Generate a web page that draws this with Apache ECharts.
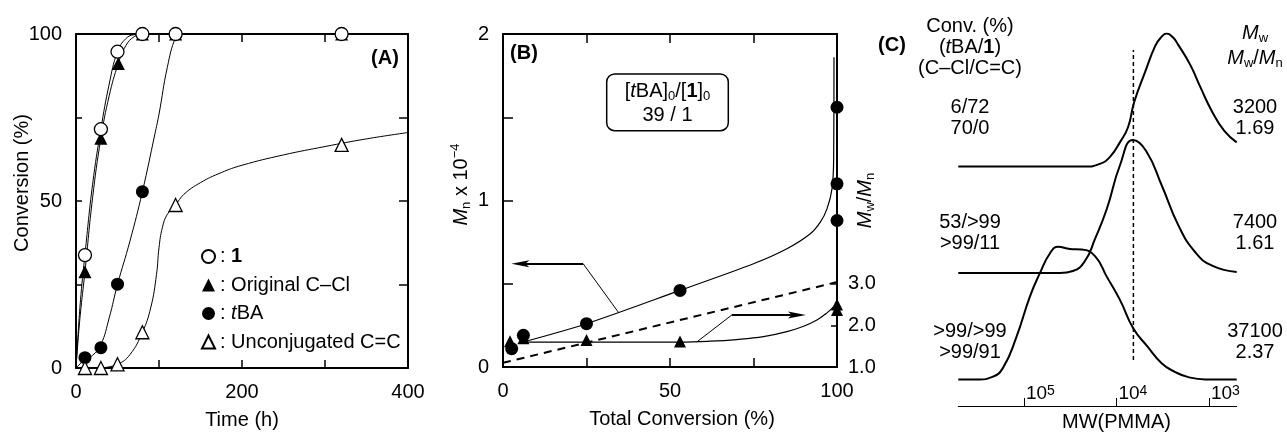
<!DOCTYPE html>
<html>
<head>
<meta charset="utf-8">
<script src="https://cdn.jsdelivr.net/npm/echarts@6/dist/echarts.min.js"></script>
<style>
  html, body { margin: 0; padding: 0; background: #fff; }
  #chart { width: 1287px; height: 433px; }
</style>
</head>
<body>
<div id="chart"></div>
<script>
var FONT = '"Liberation Sans", Arial, Helvetica, sans-serif';

// ---- (A) conversion vs. time, measured points [time (h), conversion (%)]
var convInit = [[10.8, 33.8], [30, 71.5], [50, 94.7], [80, 100], [120, 100], [320, 100]];
var convCCl  = [[10.8, 28.8], [30, 68.8], [51, 91.2], [80, 100], [120, 100], [320, 100]];
var convTBA  = [[10.8, 3.1], [30, 6.1], [50, 25.1], [80, 52.8], [120, 100], [320, 100]];
var convCC   = [[10.8, 0], [30, 0], [50, 1.1], [80, 10.7], [120, 48.8], [320, 66.8]];

// ---- (A) guide curves drawn through the points
var fitInit = [[0, 0], [3, 12], [6, 22], [10.8, 34], [20, 55], [30, 71.5], [40, 85], [50, 94.7], [60, 98.6], [70, 99.8], [80, 100], [400, 100]];
var fitCCl  = [[0, 0], [3, 10], [6, 18], [10.8, 28.8], [20, 51], [30, 68.8], [40, 81.5], [51, 91.2], [60, 96.5], [70, 99.2], [80, 100], [400, 100]];
var fitTBA  = [[0, 0], [10.8, 2.5], [20, 3.8], [30, 7], [40, 15], [50, 25], [65, 38], [80, 52.8], [95, 70], [100, 76], [110, 90], [120, 99], [126, 100], [400, 100]];
var fitCC   = [[30, 0], [50, 1.1], [65, 4], [80, 10.7], [90, 18], [97, 28], [100, 36], [104, 42], [110, 46], [120, 48.8], [130, 52], [150, 55.5], [175, 58.5], [200, 60.7], [250, 63.8], [300, 66.3], [350, 68.6], [400, 70.5]];

// ---- (B) Mn and Mw/Mn vs. total conversion
var mnPoints  = [[2.6, 0.11], [6.1, 0.19], [25, 0.26], [53, 0.46], [100, 0.88], [100, 1.10], [100, 1.56]];
var pdiPoints = [[2.1, 1.62], [6.1, 1.69], [25, 1.65], [53, 1.61], [100, 2.37], [100, 2.5]];
var mnTheory  = [[0, 0.025], [100, 0.51]];
var mnFit  = [[6, 0.15], [25, 0.26], [53, 0.46], [75, 0.62], [85, 0.71], [92, 0.8], [95, 0.87], [97, 0.95], [98.5, 1.07], [99, 1.25], [99.1, 1.86]];
var pdiFit = [[6, 1.6], [30, 1.6], [53, 1.6], [62, 1.62], [70, 1.66], [78, 1.73], [85, 1.85], [90, 1.98], [94, 2.13], [97, 2.3], [99, 2.45], [100, 2.55]];

// ---- (C) SEC traces, [log10 MW, normalised RI]
var gpc3200 = [[5.71, 0], [4.34, 0], [4.18, 0.02], [4.07, 0.073], [3.96, 0.186], [3.874, 0.298], [3.809, 0.484], [3.69, 0.712], [3.581, 0.908], [3.52, 0.97], [3.457, 1.0], [3.39, 0.972], [3.332, 0.915], [3.202, 0.765], [3.094, 0.599], [2.964, 0.411], [2.834, 0.268], [2.7, 0.182]];
var gpc7400 = [[5.71, 0], [4.612, 0], [4.471, 0.015], [4.341, 0.09], [4.232, 0.256], [4.105, 0.481], [3.961, 0.812], [3.82, 1.0], [3.679, 0.917], [3.509, 0.656], [3.329, 0.356], [3.148, 0.156], [2.966, 0.055], [2.7, 0.008]];
var gpc37100 = [[5.71, 0], [5.48, 0], [5.349, 0.017], [5.23, 0.083], [5.081, 0.32], [4.937, 0.621], [4.829, 0.797], [4.72, 0.947], [4.63, 0.997], [4.503, 0.98], [4.376, 0.976], [4.232, 0.927], [4.102, 0.769], [3.961, 0.596], [3.817, 0.383], [3.668, 0.25], [3.509, 0.12], [3.364, 0.055], [3.223, 0.017], [3.039, 0], [2.7, 0]];
var gpcOffsets = [1.8, 1.0, 0.2];
var gpcRefLogM = 3.817;
var gpcConvTop = ['6/72', '53/>99', '>99/>99'];
var gpcConvBot = ['70/0', '>99/11', '>99/91'];
var gpcMw  = ['3200', '7400', '37100'];
var gpcPdi = ['1.69', '1.61', '2.37'];

var rt = {
  t:   { fontSize: 20, fontFamily: FONT, color: '#000', lineHeight: 24 },
  i:   { fontSize: 20, fontFamily: FONT, color: '#000', lineHeight: 24, fontStyle: 'italic' },
  b:   { fontSize: 20, fontFamily: FONT, color: '#000', lineHeight: 24, fontWeight: 'bold' },
  sub: { fontSize: 13, fontFamily: FONT, color: '#000', lineHeight: 11, verticalAlign: 'bottom' },
  sup: { fontSize: 13, fontFamily: FONT, color: '#000', lineHeight: 15, verticalAlign: 'top' }
};
var txt = { fontSize: 20, fontFamily: FONT, color: '#000' };
var axLine = { show: true, onZero: false, lineStyle: { color: '#000', width: 2 } };
var ARROW = 'path://M0,18 L4,0 L8,18 L4,14 Z';
function ticks(len, extra) {
  var o = { show: true, inside: true, length: len, lineStyle: { color: '#000', width: 1.5 } };
  for (var k in extra) o[k] = extra[k];
  return o;
}
function offset(trace, d) {
  return trace.map(function (p) { return [p[0], p[1] + d]; });
}

var chart = echarts.init(document.getElementById('chart'));

var fitStyle = { color: '#000', width: 1 };
function fitSeries(data) {
  return { type: 'line', xAxisIndex: 0, yAxisIndex: 0, data: data, symbol: 'none', smooth: 0.45,
    lineStyle: fitStyle, silent: true, z: 2 };
}
function dots(name, xi, yi, data, symbol, size, filled, z) {
  return { name: name, type: 'scatter', xAxisIndex: xi, yAxisIndex: yi, data: data, symbol: symbol, symbolSize: size,
    itemStyle: filled ? { color: '#000', opacity: 1 } : { color: '#fff', borderColor: '#000', borderWidth: 1.3, opacity: 1 },
    z: z, silent: true };
}
// bent pointer: thin leader from the curve, thicker horizontal shaft ending in an arrowhead
function pointer(from, elbow, tip) {
  return [
    [{ coord: from, lineStyle: { width: 1 } }, { coord: elbow }],
    [{ coord: elbow, lineStyle: { width: 2 } }, { coord: tip, symbol: ARROW, symbolSize: [7, 18] }]
  ];
}

var option = {
  backgroundColor: '#fff',
  animation: false,
  grid: [
    { left: 76, top: 34, width: 332, height: 334, containLabel: false, outerBoundsMode: 'none' },
    { left: 503, top: 34, width: 334, height: 333, containLabel: false, outerBoundsMode: 'none' },
    { left: 958.3, top: 33.6, width: 278.4, height: 372.4, containLabel: false, outerBoundsMode: 'none' }
  ],
  legend: {
    data: ['1', 'Original C–Cl', 'tBA', 'Unconjugated C=C'],
    orient: 'vertical', left: 196, top: 241.5,
    itemWidth: 13, itemHeight: 13, itemGap: 8.5, selectedMode: false,
    formatter: function (name) {
      if (name === '1') return ': {b|1}';
      if (name === 'tBA') return ': {i|t}BA';
      return ': ' + name;
    },
    textStyle: { fontSize: 20, fontFamily: FONT, color: '#000', lineHeight: 20,
      rich: { b: { fontSize: 20, fontFamily: FONT, fontWeight: 'bold' }, i: { fontSize: 20, fontFamily: FONT, fontStyle: 'italic' } } }
  },
  xAxis: [
    { gridIndex: 0, type: 'value', min: 0, max: 400, interval: 100, position: 'bottom',
      axisLine: axLine, axisTick: ticks(8), splitLine: { show: false },
      axisLabel: Object.assign({ customValues: [0, 200, 400], margin: 14 }, txt),
      name: 'Time (h)', nameLocation: 'middle', nameGap: 42, nameMoveOverlap: false, nameTextStyle: txt },
    { gridIndex: 0, type: 'value', min: 0, max: 400, interval: 100, position: 'top',
      axisLine: axLine, axisTick: ticks(8), axisLabel: { show: false }, splitLine: { show: false } },
    { gridIndex: 1, type: 'value', min: 0, max: 100, interval: 25, position: 'bottom',
      axisLine: axLine, axisTick: ticks(9), splitLine: { show: false },
      axisLabel: Object.assign({ customValues: [0, 50, 100], margin: 14 }, txt),
      name: 'Total Conversion (%)', nameLocation: 'middle', nameGap: 42, nameMoveOverlap: false,
      nameTextStyle: Object.assign({ padding: [0, 0, 0, 24] }, txt) },
    { gridIndex: 1, type: 'value', min: 0, max: 100, interval: 25, position: 'top',
      axisLine: axLine, axisTick: ticks(9), axisLabel: { show: false }, splitLine: { show: false } },
    { gridIndex: 2, type: 'value', min: 2.7, max: 5.71, inverse: true, position: 'bottom',
      axisLine: { show: true, onZero: false, lineStyle: { color: '#000', width: 1 } },
      axisTick: { show: true, inside: true, length: 8, customValues: [3, 4, 5], lineStyle: { color: '#000', width: 1 } },
      axisLabel: { inside: true, customValues: [3, 4, 5], margin: 2, align: 'left', verticalAlign: 'bottom', padding: [0, 0, 0, 2],
        formatter: function (v) { return '{m|10}{e|' + v + '}'; },
        rich: { m: { fontSize: 19, fontFamily: FONT, color: '#000', lineHeight: 20 },
                e: { fontSize: 14, fontFamily: FONT, color: '#000', lineHeight: 14, verticalAlign: 'top' } } },
      splitLine: { show: false },
      name: 'MW(PMMA)', nameLocation: 'middle', nameGap: 6, nameMoveOverlap: false,
      nameTextStyle: Object.assign({ padding: [0, 0, 0, 38] }, txt) }
  ],
  yAxis: [
    { gridIndex: 0, type: 'value', min: 0, max: 100, interval: 25, position: 'left',
      axisLine: axLine, axisTick: ticks(6), splitLine: { show: false },
      axisLabel: Object.assign({ customValues: [0, 50, 100], margin: 14 }, txt),
      name: 'Conversion (%)', nameLocation: 'middle', nameGap: 44, nameRotate: 90, nameMoveOverlap: false,
      nameTextStyle: Object.assign({ padding: [0, 0, 0, 36] }, txt) },
    { gridIndex: 0, type: 'value', min: 0, max: 100, interval: 25, position: 'right',
      axisLine: axLine, axisTick: ticks(9), axisLabel: { show: false }, splitLine: { show: false } },
    { gridIndex: 1, type: 'value', min: 0, max: 2, interval: 0.5, position: 'left',
      axisLine: axLine, axisTick: ticks(10), splitLine: { show: false },
      axisLabel: Object.assign({ customValues: [0, 1, 2], margin: 14 }, txt),
      name: '{i|M}{sub|n}{t| x 10}{sup|−4}', nameLocation: 'middle', nameGap: 30, nameRotate: 90, nameMoveOverlap: false,
      nameTextStyle: { fontSize: 20, fontFamily: FONT, color: '#000', padding: [0, 0, 0, 32], rich: rt } },
    { gridIndex: 1, type: 'value', min: 1, max: 9, position: 'right',
      axisLine: axLine, axisTick: ticks(6, { customValues: [2, 3] }), splitLine: { show: false },
      axisLabel: Object.assign({ customValues: [1, 2, 3], margin: 11, formatter: function (v) { return v.toFixed(1); } }, txt),
      name: '{i|M}{sub|w}{t|/}{i|M}{sub|n}', nameLocation: 'middle', nameGap: 16, nameRotate: 90, nameMoveOverlap: false,
      nameTextStyle: { fontSize: 20, fontFamily: FONT, color: '#000', rich: rt } },
    { gridIndex: 2, type: 'value', min: 0, max: 2.8, show: false }
  ],
  series: [
    // (A) curves
    fitSeries(fitTBA), fitSeries(fitCC), fitSeries(fitCCl), fitSeries(fitInit),
    // (A) points, drawn so the open circles sit on top
    dots('tBA', 0, 0, convTBA, 'circle', 13, true, 3),
    dots('Unconjugated C=C', 0, 0, convCC, 'triangle', 13, false, 3),
    dots('Original C–Cl', 0, 0, convCCl, 'triangle', 13, true, 3),
    dots('1', 0, 0, convInit, 'circle', 13, false, 3),

    // (B)
    { type: 'line', xAxisIndex: 2, yAxisIndex: 2, data: mnTheory, symbol: 'none', silent: true,
      lineStyle: { color: '#000', width: 2, type: [8, 6] } },
    { type: 'line', xAxisIndex: 2, yAxisIndex: 2, data: mnFit, symbol: 'none', smooth: 0.3, silent: true,
      lineStyle: { color: '#000', width: 1.2 },
      markLine: { silent: true, animation: false, symbol: ['none', 'none'], label: { show: false },
        lineStyle: { color: '#000', width: 1, type: 'solid' },
        data: pointer([34.5, 0.33], [24, 0.62], [5.2, 0.62]) } },
    { type: 'line', xAxisIndex: 2, yAxisIndex: 3, data: pdiFit, symbol: 'none', smooth: 0.4, silent: true,
      lineStyle: { color: '#000', width: 1.2 },
      markLine: { silent: true, animation: false, symbol: ['none', 'none'], label: { show: false },
        lineStyle: { color: '#000', width: 1, type: 'solid' },
        data: pointer([58, 1.6], [68.5, 2.25], [88, 2.25]) } },
    dots('Mw/Mn', 2, 3, pdiPoints, 'triangle', 12, true, 3),
    dots('Mn', 2, 2, mnPoints, 'circle', 13, true, 4),

    // (C)
    { type: 'line', xAxisIndex: 4, yAxisIndex: 4, data: offset(gpc3200, gpcOffsets[0]), symbol: 'none', smooth: 0.5, silent: true,
      lineStyle: { color: '#000', width: 2 } },
    { type: 'line', xAxisIndex: 4, yAxisIndex: 4, data: offset(gpc7400, gpcOffsets[1]), symbol: 'none', smooth: 0.5, silent: true,
      lineStyle: { color: '#000', width: 2 } },
    { type: 'line', xAxisIndex: 4, yAxisIndex: 4, data: offset(gpc37100, gpcOffsets[2]), symbol: 'none', smooth: 0.5, silent: true,
      lineStyle: { color: '#000', width: 2 } },
    { type: 'line', xAxisIndex: 4, yAxisIndex: 4, data: [[gpcRefLogM, 0.346], [gpcRefLogM, 2.677]], symbol: 'none', silent: true,
      lineStyle: { color: '#000', width: 1.5, type: [4, 3] } }
  ],
  graphic: []
};

// panel tags and text annotations
var g = option.graphic;
function addText(x, y, text, extra) {
  var style = { text: text, x: x, y: y, fill: '#000', fontSize: 20, fontFamily: FONT,
    textAlign: 'center', textVerticalAlign: 'middle', rich: rt };
  for (var k in extra) style[k] = extra[k];
  g.push({ type: 'text', silent: true, z: 100, style: style });
}
addText(385, 58, '(A)', { fontWeight: 'bold' });
addText(524, 53, '(B)', { fontWeight: 'bold' });
addText(892, 45, '(C)', { fontWeight: 'bold' });

// ratio box in (B)
g.push({ type: 'rect', silent: true, z: 99,
  shape: { x: 606.7, y: 74, width: 121.6, height: 56.7, r: 8 },
  style: { fill: '#fff', stroke: '#000', lineWidth: 1.5 } });
addText(667.5, 91, '{t|[}{i|t}{t|BA]}{sub|0}{t|/[}{b|1}{t|]}{sub|0}');
addText(667.5, 115, '39 / 1');

// (C) column headers
addText(970, 26, 'Conv. (%)');
addText(970, 47, '{t|(}{i|t}{t|BA/}{b|1}{t|)}');
addText(970, 68, '(C–Cl/C=C)');
addText(1255, 33, '{i|M}{sub|w}');
addText(1255, 58, '{i|M}{sub|w}{t|/}{i|M}{sub|n}');

var rowY = [107.3, 222.7, 331.7];
for (var r = 0; r < 3; r++) {
  addText(970, rowY[r], gpcConvTop[r]);
  addText(970, rowY[r] + 21, gpcConvBot[r]);
  addText(1255, rowY[r], gpcMw[r]);
  addText(1255, rowY[r] + 21, gpcPdi[r]);
}

chart.setOption(option);
</script>
</body>
</html>
